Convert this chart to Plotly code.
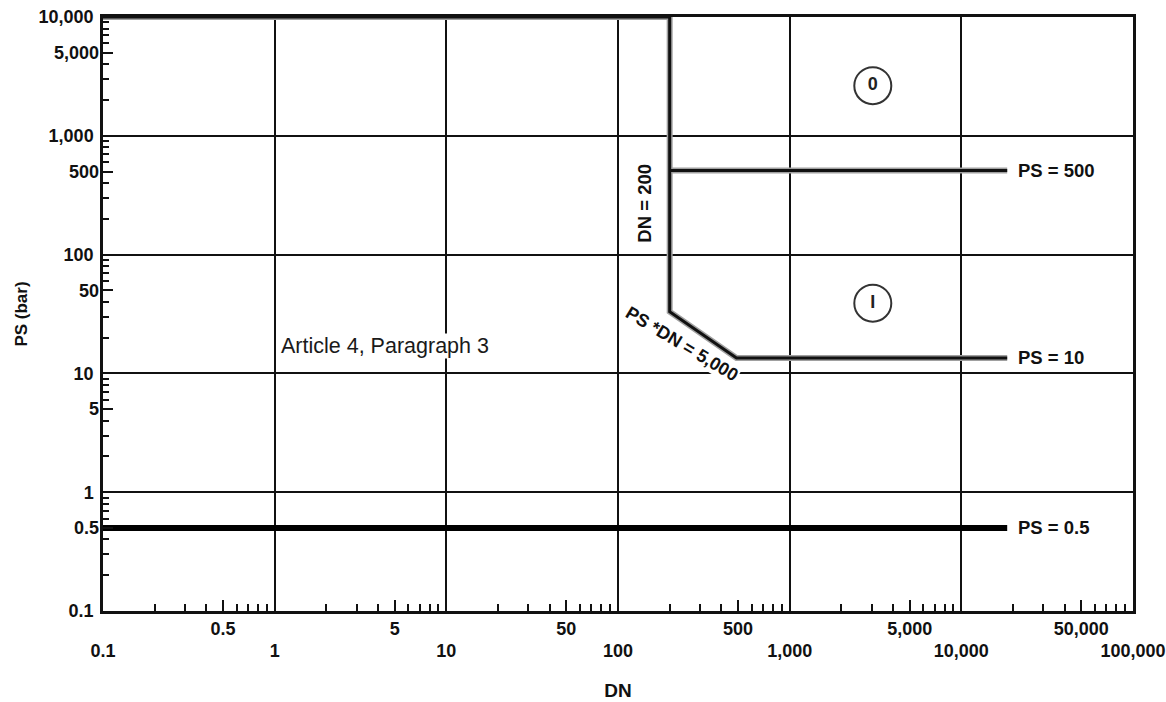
import math
import plotly.graph_objects as go

# ---- data ----
dn_decades = [0.1, 1, 10, 100, 1000, 10000, 100000]
dn_decade_text = ["0.1", "1", "10", "100", "1,000", "10,000", "100,000"]
dn_fives = [0.5, 5, 50, 500, 5000, 50000]
dn_fives_text = ["0.5", "5", "50", "500", "5,000", "50,000"]
ps_decades = [0.1, 1, 10, 100, 1000, 10000]
ps_decade_text = ["0.1", "1", "10", "100", "1,000", "10,000"]
ps_fives = [0.5, 5, 50, 500, 5000]
ps_fives_text = ["0.5", "5", "50", "500", "5,000"]
minor_mult = [2, 3, 4, 6, 7, 8, 9]

# boundary: top line, DN=200 vertical, PS*DN=5000 diagonal, PS=10 horizontal
boundary_dn = [0.1, 200, 200, 490, 18500]
boundary_ps = [10000, 10000, 33, 13.5, 13.5]
ps500_dn = [200, 18500]
ps500_ps = [510, 510]
ps05_dn = [0.1, 18500]
ps05_ps = [0.5, 0.5]

category_dn = [3050, 3050]
category_ps = [2640, 39]
category_txt = ["0", "I"]

minor_x = [m * d for d in dn_decades[:-1] for m in minor_mult]
minor_y = [m * d for d in ps_decades[:-1] for m in minor_mult]

FONT = "Liberation Sans, Arial, sans-serif"
INK = "#111111"

fig = go.Figure()

# halo + core lines
fig.add_trace(go.Scatter(x=boundary_dn, y=boundary_ps, mode="lines",
                         line=dict(color="#a0a0a0", width=6), hoverinfo="skip", showlegend=False))
fig.add_trace(go.Scatter(x=ps500_dn, y=ps500_ps, mode="lines",
                         line=dict(color="#a0a0a0", width=6), hoverinfo="skip", showlegend=False))
fig.add_trace(go.Scatter(x=boundary_dn, y=boundary_ps, mode="lines",
                         line=dict(color=INK, width=3), showlegend=False))
fig.add_trace(go.Scatter(x=ps500_dn, y=ps500_ps, mode="lines",
                         line=dict(color=INK, width=3), showlegend=False))
fig.add_trace(go.Scatter(x=ps05_dn, y=ps05_ps, mode="lines",
                         line=dict(color="#000000", width=6), showlegend=False))

# category circles
fig.add_trace(go.Scatter(x=category_dn, y=category_ps, mode="markers+text",
                         text=category_txt, textposition="middle center",
                         textfont=dict(family=FONT, size=18, color="#222", weight="bold"),
                         marker=dict(symbol="circle-open", size=37, color="#333",
                                     line=dict(width=2, color="#333")),
                         showlegend=False))

# empty traces to host overlay axes
fig.add_trace(go.Scatter(x=[], y=[], xaxis="x2", yaxis="y", showlegend=False))
fig.add_trace(go.Scatter(x=[], y=[], xaxis="x3", yaxis="y", showlegend=False))
fig.add_trace(go.Scatter(x=[], y=[], xaxis="x", yaxis="y2", showlegend=False))
fig.add_trace(go.Scatter(x=[], y=[], xaxis="x", yaxis="y3", showlegend=False))

tickfont = dict(family=FONT, size=18, color=INK, weight="bold")
xr = [-1, 5]
yr = [-1, 4]

fig.update_layout(
    width=1166, height=702,
    margin=dict(l=103, r=33, t=17, b=91, pad=0),
    paper_bgcolor="white", plot_bgcolor="white",
    font=dict(family=FONT, color=INK),
    xaxis=dict(type="log", range=xr, tickmode="array", tickvals=dn_decades,
               ticktext=dn_decade_text, ticks="", showgrid=True, gridcolor=INK,
               gridwidth=2, showline=True, linecolor=INK, linewidth=2.5, mirror=True,
               zeroline=False, tickfont=tickfont, ticklabelstandoff=22, automargin=False,
               ticklabeloverflow="allow",
               title=dict(text="DN", font=dict(family=FONT, size=19, color=INK, weight="bold"),
                          standoff=24)),
    xaxis2=dict(type="log", range=xr, overlaying="x", anchor="y", side="bottom",
                tickmode="array", tickvals=dn_fives, ticktext=dn_fives_text,
                ticks="inside", ticklen=11, tickwidth=2, tickcolor=INK,
                showgrid=False, showline=False, zeroline=False, automargin=False,
                tickfont=tickfont, ticklabelstandoff=5),
    xaxis3=dict(type="log", range=xr, overlaying="x", anchor="y", side="bottom",
                tickmode="array", tickvals=minor_x, showticklabels=False,
                ticks="inside", ticklen=7, tickwidth=2, tickcolor=INK, automargin=False,
                showgrid=False, showline=False, zeroline=False),
    yaxis=dict(type="log", range=yr, tickmode="array", tickvals=ps_decades,
               ticktext=ps_decade_text, ticks="", showgrid=True, gridcolor=INK,
               gridwidth=2, showline=True, linecolor=INK, linewidth=2.5, mirror=True,
               zeroline=False, tickfont=tickfont, ticklabelstandoff=3, automargin=False,
               title=dict(text="PS (bar)", font=dict(family=FONT, size=17, color=INK, weight="bold"),
                          standoff=7)),
    yaxis2=dict(type="log", range=yr, overlaying="y", anchor="x", side="left",
                tickmode="array", tickvals=ps_fives, ticktext=ps_fives_text,
                ticks="inside", ticklen=10, tickwidth=2, tickcolor=INK,
                showgrid=False, showline=False, zeroline=False, automargin=False,
                tickfont=tickfont, ticklabelstandoff=3),
    yaxis3=dict(type="log", range=yr, overlaying="y", anchor="x", side="left",
                tickmode="array", tickvals=minor_y, showticklabels=False,
                ticks="inside", ticklen=6, tickwidth=2, tickcolor=INK, automargin=False,
                showgrid=False, showline=False, zeroline=False),
)

label_font = dict(family=FONT, size=18.5, color=INK, weight="bold")
for yv, txt in [(ps500_ps[0], "PS = 500"), (boundary_ps[-1], "PS = 10"), (ps05_ps[0], "PS = 0.5")]:
    fig.add_annotation(x=math.log10(ps05_dn[-1]), y=math.log10(yv), text=txt, showarrow=False,
                       xanchor="left", yanchor="middle", xshift=9, font=label_font)

fig.add_annotation(x=math.log10(1), y=math.log10(17), text="Article 4, Paragraph 3",
                   showarrow=False, xanchor="left", yanchor="middle", xshift=5,
                   font=dict(family=FONT, size=21.5, color="#1a1a1a"),
                   bgcolor="white", borderpad=0)
fig.add_annotation(x=math.log10(143), y=math.log10(272), text="DN = 200", textangle=-90,
                   showarrow=False, font=dict(family=FONT, size=18.5, color=INK, weight="bold"))
fig.add_annotation(x=math.log10(236), y=math.log10(17.6), text="PS *DN = 5,000", textangle=31,
                   showarrow=False, font=dict(family=FONT, size=18, color=INK, weight="bold"),
                   bgcolor="white", borderpad=0)

fig.write_html("out.html", post_script="document.body.style.margin='0';",
               config={"displayModeBar": False})
